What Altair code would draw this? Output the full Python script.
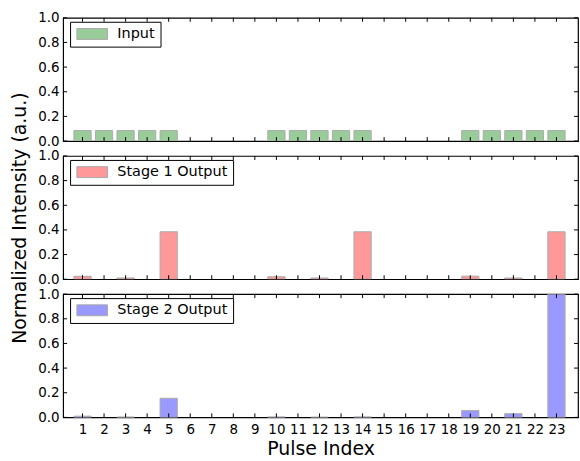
import altair as alt
import pandas as pd

pulses = list(range(1, 24))
input_vals = [0.085] * 5 + [0] * 4 + [0.085] * 5 + [0] * 4 + [0.085] * 5
stage1_vals = [0.024, 0, 0.01, 0, 0.385, 0, 0, 0, 0, 0.02, 0, 0.01, 0, 0.385,
               0, 0, 0, 0, 0.025, 0, 0.01, 0, 0.385]
stage2_vals = [0.01, 0, 0.003, 0, 0.155, 0, 0, 0, 0, 0.004, 0, 0.002, 0, 0.004,
               0, 0, 0, 0, 0.055, 0, 0.03, 0, 1.0]
series_names = ["Input", "Stage 1 Output", "Stage 2 Output"]
series_colors = ["#99cc99", "#ff9999", "#9999ff"]
y_ticks = [0.0, 0.2, 0.4, 0.6, 0.8, 1.0]
x_ticks = pulses

W, H = 518, 124
FONT = "DejaVu Sans"
TL = 4


def panel(name, values, color, show_x, y_title):
    df = pd.DataFrame({"pulse": pulses, "value": values, "series": name})
    df = df[df["value"] > 0]
    x_scale = alt.Scale(domain=[0.1, 24.0], nice=False, zero=False)
    y_scale = alt.Scale(domain=[0, 1], nice=False)
    if show_x:
        xaxis = alt.Axis(values=x_ticks, title="Pulse Index", ticks=False, domain=False,
                         grid=False, labelFontSize=13.5, labelPadding=5, labelColor="black",
                         titleFontSize=19, titleFontWeight="normal", titleColor="black",
                         titlePadding=4, labelFlush=False)
    else:
        xaxis = None
    yaxis = alt.Axis(values=y_ticks, format=".1f", title=y_title, ticks=False, domain=False,
                     grid=False, labelFontSize=13.5, labelPadding=4, labelColor="black",
                     titleFontSize=19, titleFontWeight="normal", titleColor="black",
                     titlePadding=8)
    legend = alt.Legend(title=None, orient="none", legendX=7, legendY=4, padding=5,
                        strokeColor="black", fillColor="white", cornerRadius=0,
                        labelFontSize=14.5, labelColor="black", labelFont=FONT,
                        symbolType="M-2.8,-1L2.8,-1L2.8,1L-2.8,1Z", symbolSize=121,
                        symbolOffset=10, labelOffset=18,
                        symbolStrokeColor="#aaaaaa", symbolStrokeWidth=1, symbolOpacity=1)
    bars = alt.Chart(df).transform_calculate(
        left="datum.pulse - 0.4", right="datum.pulse + 0.4", base="0"
    ).mark_rect(stroke="#aaaaaa", strokeWidth=1, clip=True).encode(
        x=alt.X("left:Q", scale=x_scale, axis=xaxis),
        x2="right:Q",
        y=alt.Y("value:Q", scale=y_scale, axis=yaxis),
        y2="base:Q",
        fill=alt.Fill("series:N", scale=alt.Scale(domain=[name], range=[color]), legend=legend),
    )
    xt = pd.DataFrame({"t": x_ticks})
    yt = pd.DataFrame({"t": y_ticks})
    xb = alt.Chart(xt).mark_rule(color="black", strokeWidth=1).encode(
        x=alt.X("t:Q", scale=x_scale, axis=xaxis), y=alt.value(H), y2=alt.value(H - TL))
    xtop = alt.Chart(xt).mark_rule(color="black", strokeWidth=1).encode(
        x=alt.X("t:Q", scale=x_scale, axis=xaxis), y=alt.value(0), y2=alt.value(TL))
    yl = alt.Chart(yt).mark_rule(color="black", strokeWidth=1).encode(
        y=alt.Y("t:Q", scale=y_scale, axis=yaxis), x=alt.value(0), x2=alt.value(TL))
    yr = alt.Chart(yt).mark_rule(color="black", strokeWidth=1).encode(
        y=alt.Y("t:Q", scale=y_scale, axis=yaxis), x=alt.value(W), x2=alt.value(W - TL))
    return alt.layer(bars, xb, xtop, yl, yr).properties(
        width=W, height=H, view=alt.ViewBackground(stroke="black", strokeWidth=1.2))


p1 = panel(series_names[0], input_vals, series_colors[0], False, None)
p2 = panel(series_names[1], stage1_vals, series_colors[1], False, "Normalized Intensity (a.u.)")
p3 = panel(series_names[2], stage2_vals, series_colors[2], True, None)

chart = alt.vconcat(p1, p2, p3, spacing=15, bounds="flush").resolve_scale(
    fill="independent", x="independent", y="independent"
).resolve_legend(fill="independent").properties(
    padding={"left": 9.5, "top": 8.5, "right": 0, "bottom": 5}
).configure_view(stroke="black", strokeWidth=1.2).configure(font=FONT, background="white")

chart.save("out.html", embed_options={"renderer": "svg", "actions": False})
